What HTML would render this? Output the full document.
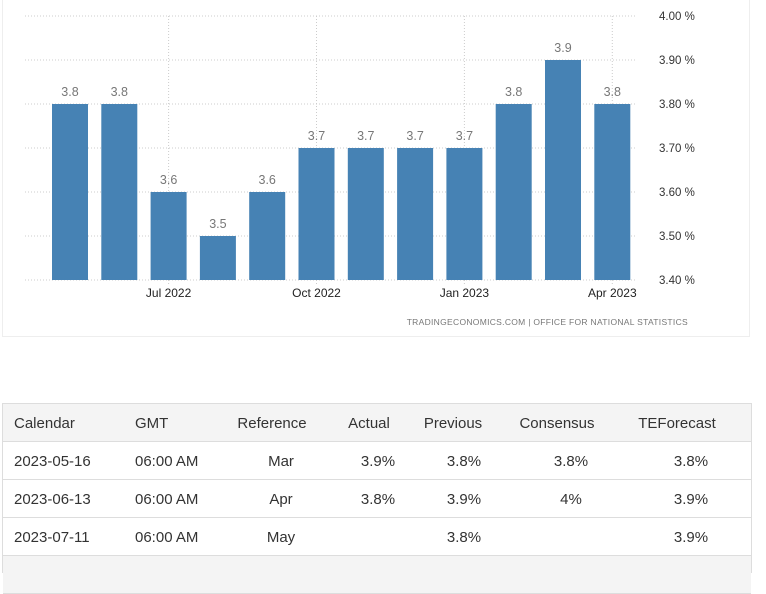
<!DOCTYPE html>
<html><head><meta charset="utf-8"><style>
body{margin:0;width:766px;height:567px;background:#fff;font-family:"Liberation Sans",Arial,sans-serif;overflow:hidden;position:relative}
#panel{position:absolute;left:2px;top:-1px;width:748px;height:338px;border:1px solid #eee;box-sizing:border-box}
svg{position:absolute;left:0;top:0}
#tbl{position:absolute;left:2px;top:403px;width:750px;height:170px;border:1px solid #ddd;box-sizing:border-box;font-size:15px;color:#333}
.row{position:absolute;left:0;width:748px;height:38px;border-bottom:1px solid #ddd;box-sizing:border-box}
.c{position:absolute;top:11px;white-space:nowrap}
.m{transform:translateX(-50%)}
</style></head><body>
<div id="panel"></div>
<svg id="chart" width="766" height="340"></svg>
<div id="tbl">
<div class="row" style="top:0;background:#f4f4f4">
<span class="c" style="left:11px">Calendar</span><span class="c" style="left:132px">GMT</span><span class="c m" style="left:269px">Reference</span><span class="c m" style="left:366px">Actual</span><span class="c m" style="left:450px">Previous</span><span class="c m" style="left:554px">Consensus</span><span class="c m" style="left:674px">TEForecast</span></div>
<div class="row" style="top:38px">
<span class="c" style="left:11px">2023-05-16</span><span class="c" style="left:132px">06:00 AM</span><span class="c m" style="left:278px">Mar</span><span class="c m" style="left:375px">3.9%</span><span class="c m" style="left:461px">3.8%</span><span class="c m" style="left:568px">3.8%</span><span class="c m" style="left:688px">3.8%</span></div>
<div class="row" style="top:76px">
<span class="c" style="left:11px">2023-06-13</span><span class="c" style="left:132px">06:00 AM</span><span class="c m" style="left:278px">Apr</span><span class="c m" style="left:375px">3.8%</span><span class="c m" style="left:461px">3.9%</span><span class="c m" style="left:568px">4%</span><span class="c m" style="left:688px">3.9%</span></div>
<div class="row" style="top:114px">
<span class="c" style="left:11px">2023-07-11</span><span class="c" style="left:132px">06:00 AM</span><span class="c m" style="left:278px">May</span><span class="c m" style="left:461px">3.8%</span><span class="c m" style="left:688px">3.9%</span></div>
<div class="row" style="top:152px;background:#f4f4f4"></div>
</div>
<script>
const categories=["May 2022","Jun 2022","Jul 2022","Aug 2022","Sep 2022","Oct 2022","Nov 2022","Dec 2022","Jan 2023","Feb 2023","Mar 2023","Apr 2023"];
const values=[3.8,3.8,3.6,3.5,3.6,3.7,3.7,3.7,3.7,3.8,3.9,3.8];
const yTicks=[3.4,3.5,3.6,3.7,3.8,3.9,4.0];
const xLabels=["Jul 2022","Oct 2022","Jan 2023","Apr 2023"];
const NS="http://www.w3.org/2000/svg";
const svg=document.getElementById('chart');
const y=v=>280-(v-3.4)*440;
const x=i=>70+i*49.3;
function el(t,a){const e=document.createElementNS(NS,t);for(const k in a)e.setAttribute(k,a[k]);svg.appendChild(e);return e;}
yTicks.forEach(t=>{
 const l=el('line',{x1:25,x2:636,y1:y(t),y2:y(t),stroke:'#ccc','stroke-dasharray':'1,2'});
 
 
 const tx=el('text',{x:659,y:y(t)+4,'font-size':'11.5',fill:'#333'});
 tx.textContent=t.toFixed(2)+' %';
 
 
});
xLabels.forEach(lb=>{
 const i=categories.indexOf(lb);
 const l=el('line',{x1:x(i),x2:x(i),y1:16,y2:284,stroke:'#ccc','stroke-dasharray':'1,2'});
 
 
 const tx=el('text',{x:x(i),y:297,'font-size':'12','text-anchor':'middle',fill:'#222'});
 tx.textContent=lb;
 
 
});
values.forEach((v,i)=>{
 const r=el('rect',{x:x(i)-18,y:y(v),width:36,height:280-y(v),fill:'#4682b4'});
 
 
 const tx=el('text',{x:x(i),y:y(v)-8,'font-size':'12.5','text-anchor':'middle',fill:'#777'});
 tx.textContent=v.toFixed(1);
 
 
});
const src=el('text',{x:688,y:325,'font-size':'8.5','text-anchor':'end',fill:'#777','letter-spacing':'0.3'});
src.textContent='TRADINGECONOMICS.COM  |  OFFICE FOR NATIONAL STATISTICS';


</script>
</body></html>
